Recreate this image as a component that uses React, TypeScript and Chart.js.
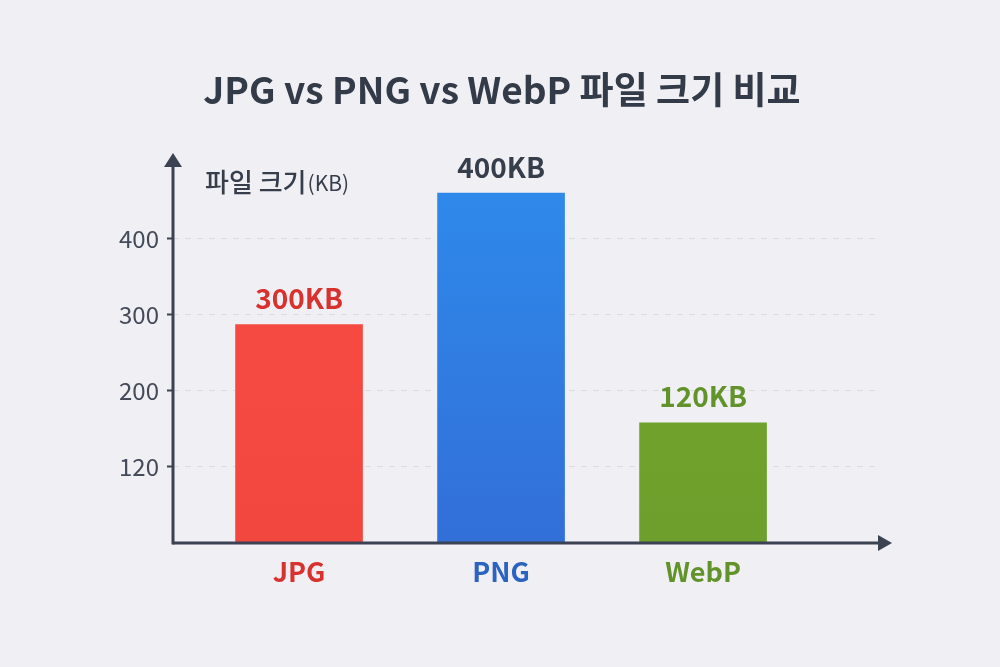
import { useEffect, useRef } from 'react';
import { Chart, registerables } from 'chart.js';

Chart.register(...registerables);

// categories and bar heights as drawn against the picture's y axis
const categories = ['JPG', 'PNG', 'WebP'];
const barHeights = [287, 460, 158];
const valueLabels = ['300KB', '400KB', '120KB'];
// tick positions and the labels printed at them
const tickValues = [100, 200, 300, 400];
const tickLabels = ['120', '200', '300', '400'];

const TITLE = 'JPG vs PNG vs WebP 파일 크기 비교';

const topColors = ['#f84c44', '#2e8cec', '#77aa30'];
const bottomColors = ['#f2473f', '#326fd8', '#6e9e2b'];
const labelColors = ['#d8322f', '#2b63c2', '#62932a'];
const valueColors = ['#d8322f', '#363d4b', '#62932a'];

const FONT = '"Noto Sans CJK KR", "Noto Sans", sans-serif';
const AXIS = '#3b4353';

const axisPlugin = {
    id: 'arrowAxes',
    afterDraw: (chart: any) => {
        const { ctx, chartArea } = chart;
        const left = chartArea.left;
        const bottom = chartArea.bottom;
        ctx.save();

        // title
        ctx.textBaseline = 'middle';
        ctx.textAlign = 'center';
        ctx.font = `bold 37px ${FONT}`;
        ctx.fillStyle = '#333a48';
        ctx.fillText(TITLE, chart.width / 2 + 2, 90);

        ctx.strokeStyle = AXIS;
        ctx.fillStyle = AXIS;
        ctx.lineWidth = 3;
        // y axis
        ctx.beginPath();
        ctx.moveTo(left, bottom + 1.5);
        ctx.lineTo(left, chartArea.top + 10);
        ctx.stroke();
        ctx.beginPath();
        ctx.moveTo(left, chartArea.top - 2);
        ctx.lineTo(left - 9, chartArea.top + 12);
        ctx.lineTo(left + 9, chartArea.top + 12);
        ctx.closePath();
        ctx.fill();
        // x axis
        ctx.beginPath();
        ctx.moveTo(left, bottom);
        ctx.lineTo(chartArea.right + 2, bottom);
        ctx.stroke();
        ctx.beginPath();
        ctx.moveTo(chartArea.right + 12, bottom);
        ctx.lineTo(chartArea.right - 2, bottom - 8);
        ctx.lineTo(chartArea.right - 2, bottom + 8);
        ctx.closePath();
        ctx.fill();

        // axis title
        ctx.textAlign = 'left';
        ctx.font = `500 26px ${FONT}`;
        ctx.fillStyle = '#363d4b';
        const t1 = '파일 크기';
        ctx.fillText(t1, left + 32, chartArea.top + 27);
        const w = ctx.measureText(t1).width;
        ctx.font = `400 21px ${FONT}`;
        ctx.fillText('(KB)', left + 32 + w + 1, chartArea.top + 28);

        // value labels above bars
        const meta = chart.getDatasetMeta(0);
        ctx.textAlign = 'center';
        ctx.font = `bold 28px ${FONT}`;
        meta.data.forEach((bar: any, i: number) => {
            ctx.fillStyle = valueColors[i];
            ctx.fillText(valueLabels[i], bar.x, bar.y - 26);
        });
        ctx.restore();
    }
};

const App = () => {
    const canvas = useRef<HTMLCanvasElement>(null);

    useEffect(() => {
        const chart = new Chart(
            // @ts-expect-error next
            canvas.current,
            {
                type: 'bar',
                data: {
                    datasets: [{
                        label: '파일 크기',
                        data: barHeights.map((v, i) => ({ x: i + 1, y: v })),
                        barThickness: 127,
                        backgroundColor: (c: any) => {
                            const area = c.chart.chartArea;
                            if (!area) return topColors[c.dataIndex];
                            const g = c.chart.ctx.createLinearGradient(0, area.top, 0, area.bottom);
                            g.addColorStop(0, topColors[c.dataIndex]);
                            g.addColorStop(1, bottomColors[c.dataIndex]);
                            return g;
                        },
                        borderWidth: 0
                    }]
                },
                options: {
                    animation: false,
                    responsive: true,
                    maintainAspectRatio: false,
                    layout: { padding: { left: 0, right: 120, top: 155, bottom: 0 } },
                    plugins: {
                        legend: { display: false },
                        tooltip: { enabled: false },
                        title: { display: false }
                    },
                    scales: {
                        x: {
                            type: 'linear',
                            offset: false,
                            min: 0.376,
                            max: 3.876,
                            afterBuildTicks: (scale: any) => {
                                scale.ticks = categories.map((_, i) => ({ value: i + 1 }));
                            },
                            afterFit: (scale: any) => {
                                scale.height = 124;
                            },
                            grid: { display: false, drawTicks: false },
                            border: { display: false },
                            ticks: {
                                padding: 13,
                                autoSkip: false,
                                maxRotation: 0,
                                color: (c: any) => labelColors[c.index],
                                font: { family: FONT, size: 27, weight: 'bold' },
                                callback: (_v: any, i: number) => categories[i]
                            }
                        },
                        y: {
                            min: 0,
                            max: 510,
                            afterBuildTicks: (scale: any) => {
                                scale.ticks = tickValues.map(v => ({ value: v }));
                            },
                            afterFit: (scale: any) => {
                                scale.width = 173;
                            },
                            border: { display: false, dash: [6, 6] },
                            grid: {
                                color: '#dcdbe2',
                                lineWidth: 1,
                                tickLength: 6,
                                tickColor: AXIS,
                                tickWidth: 2,
                                tickBorderDash: []
                            },
                            ticks: {
                                padding: 8,
                                color: '#434a59',
                                font: { family: FONT, size: 24 },
                                callback: (v: any) => tickLabels[tickValues.indexOf(v)]
                            }
                        }
                    }
                },
                plugins: [axisPlugin]
            }
        );

        return () => {
            chart.destroy();
        };
    }, []);

    return (
        <div style={{ position: 'fixed', left: 0, top: 0, width: 1000, height: 667, background: '#f0eff4' }}>
            <canvas ref={canvas} role="img" aria-label={TITLE}></canvas>
        </div>
    );
};

export default App;
